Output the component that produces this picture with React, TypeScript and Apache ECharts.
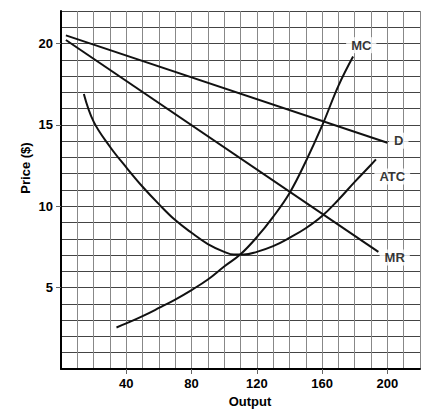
import * as echarts from 'echarts';
import React, { useEffect, useRef } from 'react';

// tick label values
const xLabelValues = [40, 80, 120, 160, 200];
const yLabelValues = [5, 10, 15, 20];

// demand (D) and marginal revenue (MR): straight lines
const demandX = [3, 200];
const demandY = [20.5, 13.9];
const mrX = [3, 194.5];
const mrY = [20.22, 7.2];

// marginal cost (MC)
const mcX = [34, 40, 50, 60, 70, 80, 90, 100, 110, 120, 130, 140, 150, 160, 170, 179];
const mcY = [2.55, 2.8, 3.25, 3.75, 4.27, 4.85, 5.5, 6.3, 7.05, 8.1, 9.35, 10.8, 12.75, 14.95, 17.4, 19.2];

// average total cost (ATC)
const atcX = [14, 20, 30, 40, 50, 60, 70, 80, 90, 100, 106, 112, 120, 130, 140, 150, 160, 170, 180, 190, 193];
const atcY = [16.9, 15.2, 13.66, 12.39, 11.2, 10.13, 9.15, 8.37, 7.68, 7.2, 7.03, 7.03, 7.2, 7.55, 8.06, 8.65, 9.4, 10.4, 11.5, 12.55, 12.88];

// curve labels
const curveNames = ['MC', 'D', 'ATC', 'MR'];
const labelX = [184, 207, 203, 204.5];
const labelY = [19.9, 14.03, 11.83, 6.85];

const zip = (xs: number[], ys: number[]) => xs.map((x, i) => [x, ys[i]]);

const FONT = '"Liberation Sans", Arial, sans-serif';

const labelStyle = {
  margin: 8,
  color: '#000',
  fontSize: 13,
  fontWeight: 'bold' as const,
  fontFamily: FONT,
};

const App: React.FC = () => {
  const chartRef = useRef<HTMLDivElement>(null);

  useEffect(() => {
    if (!chartRef.current) return;
    const chart = echarts.init(chartRef.current, undefined, { renderer: 'svg' });

    const curveStyle = { color: '#111', width: 2 };

    const option: echarts.EChartsOption = {
      animation: false,
      grid: { left: 61, right: 22, top: 11, bottom: 45 },
      xAxis: [
        {
          // grid axis: a line every 10 units
          type: 'value',
          min: 0,
          max: 220,
          interval: 10,
          axisLine: { show: true, onZero: false, lineStyle: { color: '#000', width: 2 } },
          axisTick: { show: false },
          axisLabel: { show: false },
          splitLine: { show: true, lineStyle: { color: '#888', width: 1 } },
        },
        {
          // ticks and labels only
          type: 'value',
          position: 'bottom',
          min: 0,
          max: 220,
          axisLine: { show: false },
          axisTick: { show: true, length: 5, customValues: xLabelValues, lineStyle: { color: '#666' } },
          axisLabel: { ...labelStyle, customValues: xLabelValues },
          splitLine: { show: false },
        },
      ],
      yAxis: [
        {
          type: 'value',
          min: 0,
          max: 22,
          interval: 1,
          axisLine: { show: true, onZero: false, lineStyle: { color: '#000', width: 2 } },
          axisTick: { show: false },
          axisLabel: { show: false },
          splitLine: { show: true, lineStyle: { color: '#444', width: 1 } },
        },
        {
          type: 'value',
          position: 'left',
          min: 0,
          max: 22,
          axisLine: { show: false },
          axisTick: { show: true, length: 5, customValues: yLabelValues, lineStyle: { color: '#666' } },
          axisLabel: { ...labelStyle, customValues: yLabelValues },
          splitLine: { show: false },
        },
      ],
      graphic: [
        {
          type: 'text',
          x: 25,
          y: 168,
          rotation: Math.PI / 2,
          style: {
            text: 'Price ($)',
            fill: '#000',
            font: `bold 13px ${FONT}`,
            textAlign: 'center',
            textVerticalAlign: 'middle',
          },
        },
        {
          type: 'text',
          x: 250,
          y: 401,
          style: {
            text: 'Output',
            fill: '#000',
            font: `bold 13px ${FONT}`,
            textAlign: 'center',
            textVerticalAlign: 'middle',
          },
        },
      ],
      series: [
        { name: 'D', type: 'line', data: zip(demandX, demandY), symbol: 'none', lineStyle: curveStyle, z: 3 },
        { name: 'MR', type: 'line', data: zip(mrX, mrY), symbol: 'none', lineStyle: curveStyle, z: 3 },
        {
          name: 'MC',
          type: 'line',
          data: zip(mcX, mcY),
          smooth: 0.4,
          symbol: 'none',
          lineStyle: curveStyle,
          z: 3,
        },
        {
          name: 'ATC',
          type: 'line',
          data: zip(atcX, atcY),
          smooth: 0.4,
          symbol: 'none',
          lineStyle: curveStyle,
          z: 3,
        },
        {
          name: 'labels',
          type: 'scatter',
          data: curveNames.map((n, i) => ({ value: [labelX[i], labelY[i]], name: n })),
          symbolSize: 0,
          z: 5,
          label: {
            show: true,
            position: 'inside',
            formatter: '{b}',
            color: '#000',
            fontSize: 13,
            fontWeight: 'bold',
            fontFamily: FONT,
            backgroundColor: '#fff',
            padding: [2, 5, 1, 5],
          },
        },
      ],
    };

    chart.setOption(option);
    return () => chart.dispose();
  }, []);

  return (
    <div
      ref={chartRef}
      style={{ position: 'absolute', left: 0, top: 0, width: 442, height: 414 }}
    />
  );
};

export default App;
